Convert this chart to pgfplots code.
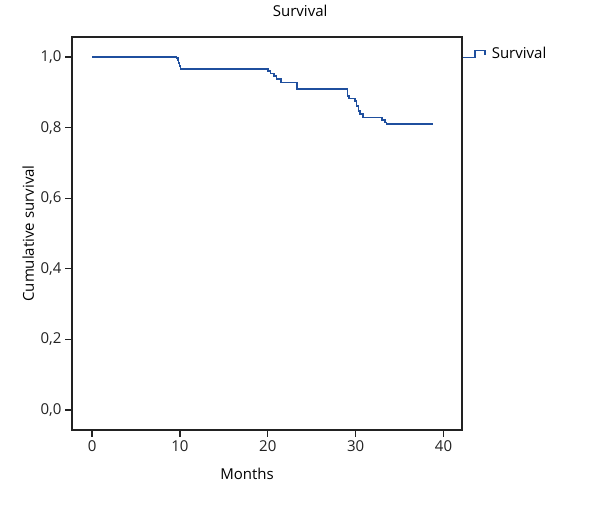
\documentclass[border=0pt]{standalone}
\usepackage{fontspec}
\setmainfont{Open Sans}
\usepackage{pgfplots}
\pgfplotsset{compat=1.18}
\definecolor{kmblue}{HTML}{1F4F9E}
\definecolor{axgray}{HTML}{222222}

\begin{document}
\begin{tikzpicture}[x=1bp,y=1bp,font=\fontsize{15bp}{17bp}\selectfont]
\useasboundingbox (0,0) rectangle (600,512);
\begin{axis}[
	at={(72bp,82bp)}, anchor=south west,
	scale only axis, width=390bp, height=393bp,
	xmin=-2.28, xmax=42.1, ymin=-0.057, ymax=1.057,
	xtick={0,10,20,30,40},
	ytick={0,0.2,0.4,0.6,0.8,1.0},
	tick pos=left, tick align=outside,
	major tick length=7bp,
	axis line style={axgray, line width=1.4bp},
	every tick/.style={axgray, line width=1.3bp},
	yticklabel style={/pgf/number format/.cd,fixed,fixed zerofill,precision=1,use comma},
	/pgf/number format/assume math mode=true,
	ticklabel style={font=\fontsize{15bp}{17bp}\selectfont, text=axgray},
	title={Survival},
	title style={at={(axis description cs:0.585,1.052)}, anchor=center, font=\fontsize{15bp}{17bp}\selectfont},
	xlabel={Months},
	xlabel style={at={(axis description cs:0.449,-0.112)}, anchor=center, font=\fontsize{15bp}{17bp}\selectfont},
	ylabel={Cumulative survival},
	ylabel style={at={(axis description cs:-0.112,0.5)}, anchor=center, rotate=0, font=\fontsize{15bp}{17bp}\selectfont},
	legend style={at={(axis description cs:1.0,0.958)}, anchor=west, draw=none, fill=none, inner sep=0pt,
		font=\fontsize{15bp}{17bp}\selectfont},
	legend cell align=left,
	legend image code/.code={
		\draw[#1] (0bp,-4bp) -- (12bp,-4bp) -- (12bp,3bp) -- (22bp,3bp) -- (22bp,-2bp);
		\path (26bp,0bp);
	},
]
\addplot[const plot, kmblue, line width=1.6bp] coordinates {
	(0,1.000)
	(9.60,0.998)
	(9.75,0.992)
	(9.85,0.984)
	(9.95,0.975)
	(10.05,0.966)
	(20.00,0.960)
	(20.30,0.954)
	(20.70,0.946)
	(21.00,0.938)
	(21.50,0.928)
	(23.30,0.909)
	(29.05,0.889)
	(29.25,0.883)
	(29.90,0.876)
	(30.10,0.862)
	(30.30,0.848)
	(30.50,0.838)
	(30.80,0.829)
	(33.00,0.822)
	(33.35,0.815)
	(33.50,0.810)
	(38.70,0.809)
};
\addlegendentry{Survival}
\end{axis}
\end{tikzpicture}
\end{document}
